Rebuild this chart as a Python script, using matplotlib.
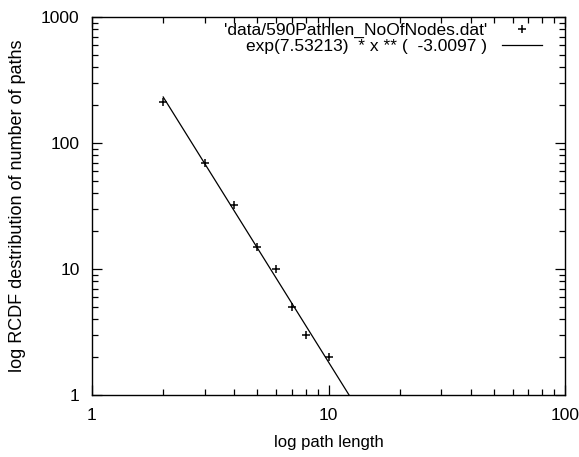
import numpy as np
import matplotlib
matplotlib.use('Agg')
from matplotlib import pyplot as plt
from matplotlib.ticker import LogLocator, NullFormatter

plt.rcParams['font.family'] = ['Liberation Sans', 'DejaVu Sans']

# data points
pathLen = [2, 3, 4, 5, 6, 7, 8, 10]
numPaths = [211, 70, 32, 15, 10, 5, 3, 2]

# fitted power law
fitA = 7.53213
fitB = -3.0097
fitX = np.linspace(2, 100, 400)
fitY = np.exp(fitA) * fitX ** fitB

fig = plt.figure(figsize=(5.79, 4.57), dpi=100)
ax = fig.add_axes([92/579, 1-395/457, (565-92)/579, (395-17)/457])

ax.plot(pathLen, numPaths, linestyle='none', marker='+', color='black',
        markersize=5.5, markeredgewidth=1.1,
        label="'data/590Pathlen_NoOfNodes.dat'")
ax.plot(fitX, fitY, color='black', linewidth=0.9,
        label='exp(7.53213)  * x ** (  -3.0097 )')

ax.set_xscale('log')
ax.set_yscale('log')
ax.set_xlim(1, 100)
ax.set_ylim(1, 1000)

ax.xaxis.set_minor_locator(LogLocator(base=10, subs=np.arange(2, 10)))
ax.yaxis.set_minor_locator(LogLocator(base=10, subs=np.arange(2, 10)))
ax.xaxis.set_minor_formatter(NullFormatter())
ax.yaxis.set_minor_formatter(NullFormatter())
ax.set_xticks([1, 10, 100])
ax.set_xticklabels(['1', '10', '100'])
ax.set_yticks([1, 10, 100, 1000])
ax.set_yticklabels(['1', '10', '100', '1000'])

ax.tick_params(which='both', direction='in', top=True, right=True,
               colors='black', labelsize=12.5, width=0.9)
ax.tick_params(which='major', length=7, pad=9)
ax.tick_params(which='minor', length=4)
for s in ax.spines.values():
    s.set_linewidth(1.0)

ax.set_xlabel('log path length', fontsize=12)
ax.set_ylabel('log RCDF destribution of number of paths', fontsize=13)
ax.xaxis.set_label_coords(0.5, -(435-395)/378)
ax.yaxis.set_label_coords(-(92-26)/473, 0.5)

ax.legend(loc='upper right', frameon=False, markerfirst=False, fontsize=12.5,
          bbox_to_anchor=(542/579, 1-23/457), bbox_transform=fig.transFigure,
          borderpad=0, borderaxespad=0, handlelength=2.3,
          labelspacing=0.05, handletextpad=0.85)

fig.savefig('out.png', dpi=100)
